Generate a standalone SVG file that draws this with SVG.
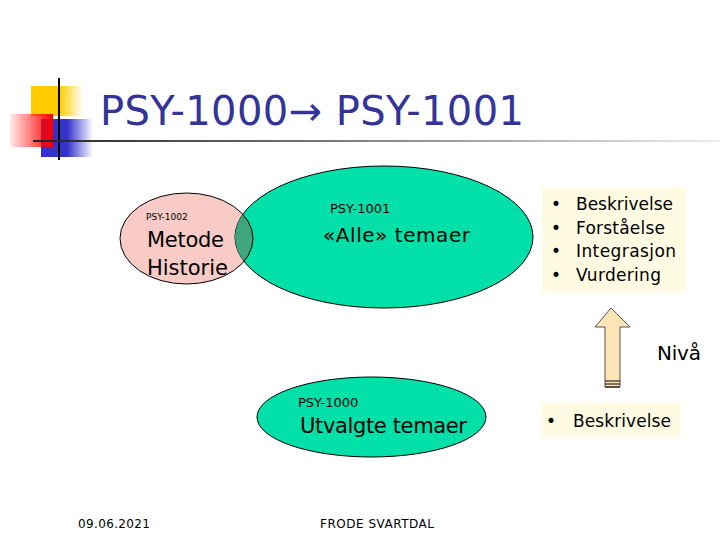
<svg xmlns="http://www.w3.org/2000/svg" width="720" height="540" viewBox="0 0 720 540">
<defs>
<linearGradient id="gy" x1="0" x2="1" y1="0" y2="0"><stop offset="0" stop-color="#ffcc00"/><stop offset="0.55" stop-color="#ffcc00"/><stop offset="1" stop-color="#ffcc00" stop-opacity="0"/></linearGradient>
<linearGradient id="gb" x1="0" x2="1" y1="0" y2="0"><stop offset="0" stop-color="#3333cc"/><stop offset="0.5" stop-color="#3333cc"/><stop offset="1" stop-color="#3333cc" stop-opacity="0"/></linearGradient>
<linearGradient id="gr" x1="0" x2="1" y1="0" y2="0"><stop offset="0" stop-color="#ff0000" stop-opacity="0.08"/><stop offset="1" stop-color="#ff0000"/></linearGradient>
<linearGradient id="gl" x1="0" x2="1" y1="0" y2="0"><stop offset="0" stop-color="#222"/><stop offset="1" stop-color="#eee"/></linearGradient>
<clipPath id="cg"><ellipse cx="384" cy="237" rx="149" ry="71"/></clipPath>
</defs>
<style>
text{font-family:"DejaVu Sans","Liberation Sans",sans-serif;fill:#000}
.sm{font-size:12px}
.ell{stroke:#000;stroke-width:1}
.g{fill:#00e0a8}
</style>
<rect width="720" height="540" fill="#fff"/>
<g id="logo">
<rect x="31" y="86" width="52" height="30" fill="url(#gy)"/>
<rect x="41" y="119" width="52" height="38" fill="url(#gb)"/>
<rect x="10" y="114" width="43" height="33" fill="url(#gr)"/>
<line x1="59" y1="78" x2="59" y2="160" stroke="#000" stroke-width="2"/>
<rect x="33" y="140" width="687" height="2" fill="url(#gl)"/>
</g>
<g id="title"><text x="100" y="125" font-size="40" fill="#333399" style="fill:#333399" textLength="424">PSY-1000→ PSY-1001</text></g>
<g id="psy1002">
<ellipse class="ell" cx="186.5" cy="238.5" rx="66.5" ry="45.5" fill="#f8cbc6"/>
</g>
<g id="psy1001">
<ellipse class="ell g" cx="384" cy="237" rx="149" ry="71"/>
<ellipse cx="186.5" cy="238.5" rx="66.5" ry="45.5" fill="#3ea57c" stroke="#000" clip-path="url(#cg)"/>
<text x="330" y="213" font-size="13" fill="#222">PSY-1001</text>
<text x="323" y="242" font-size="20" textLength="147">«Alle» temaer</text>
</g>
<g id="psy1002-text">
<text x="146" y="220" font-size="9">PSY-1002</text>
<text x="147" y="247" font-size="21" textLength="77">Metode</text>
<text x="147" y="275" font-size="21" textLength="81">Historie</text>
</g>
<g id="levels">
<rect x="542" y="188" width="144" height="104" fill="#fffbe3"/>
<g font-size="17">
<text x="551" y="210">•</text><text x="576" y="210" textLength="97">Beskrivelse</text>
<text x="551" y="234">•</text><text x="576" y="234" textLength="89">Forståelse</text>
<text x="551" y="257">•</text><text x="576" y="257" textLength="100">Integrasjon</text>
<text x="551" y="281">•</text><text x="576" y="281" textLength="85">Vurdering</text>
</g>
</g>
<g id="arrow">
<polygon points="611,308 630,327 620,327 620,387 605,387 605,327 595,327" fill="#fce4b4" stroke="#555" stroke-width="1"/>
<line x1="605" y1="381" x2="620" y2="381" stroke="#000"/>
<line x1="605" y1="384" x2="620" y2="384" stroke="#000"/>
<line x1="605" y1="387" x2="620" y2="387" stroke="#000"/>
<text x="657" y="360" font-size="20" textLength="44">Nivå</text>
</g>
<g id="level1">
<rect x="541" y="403" width="139" height="34" fill="#fffbe3"/>
<text x="546" y="427" font-size="17">•</text>
<text x="573" y="427" font-size="17" textLength="98">Beskrivelse</text>
</g>
<g id="psy1000">
<ellipse class="ell g" cx="371.5" cy="417" rx="114.5" ry="40"/>
<text x="298" y="407" font-size="13" fill="#222">PSY-1000</text>
<text x="300" y="433" font-size="21" textLength="167">Utvalgte temaer</text>
</g>
<g id="footer">
<text class="sm" x="78" y="528" textLength="72">09.06.2021</text>
<text class="sm" x="320" y="528" textLength="114">FRODE SVARTDAL</text>
</g>
</svg>
